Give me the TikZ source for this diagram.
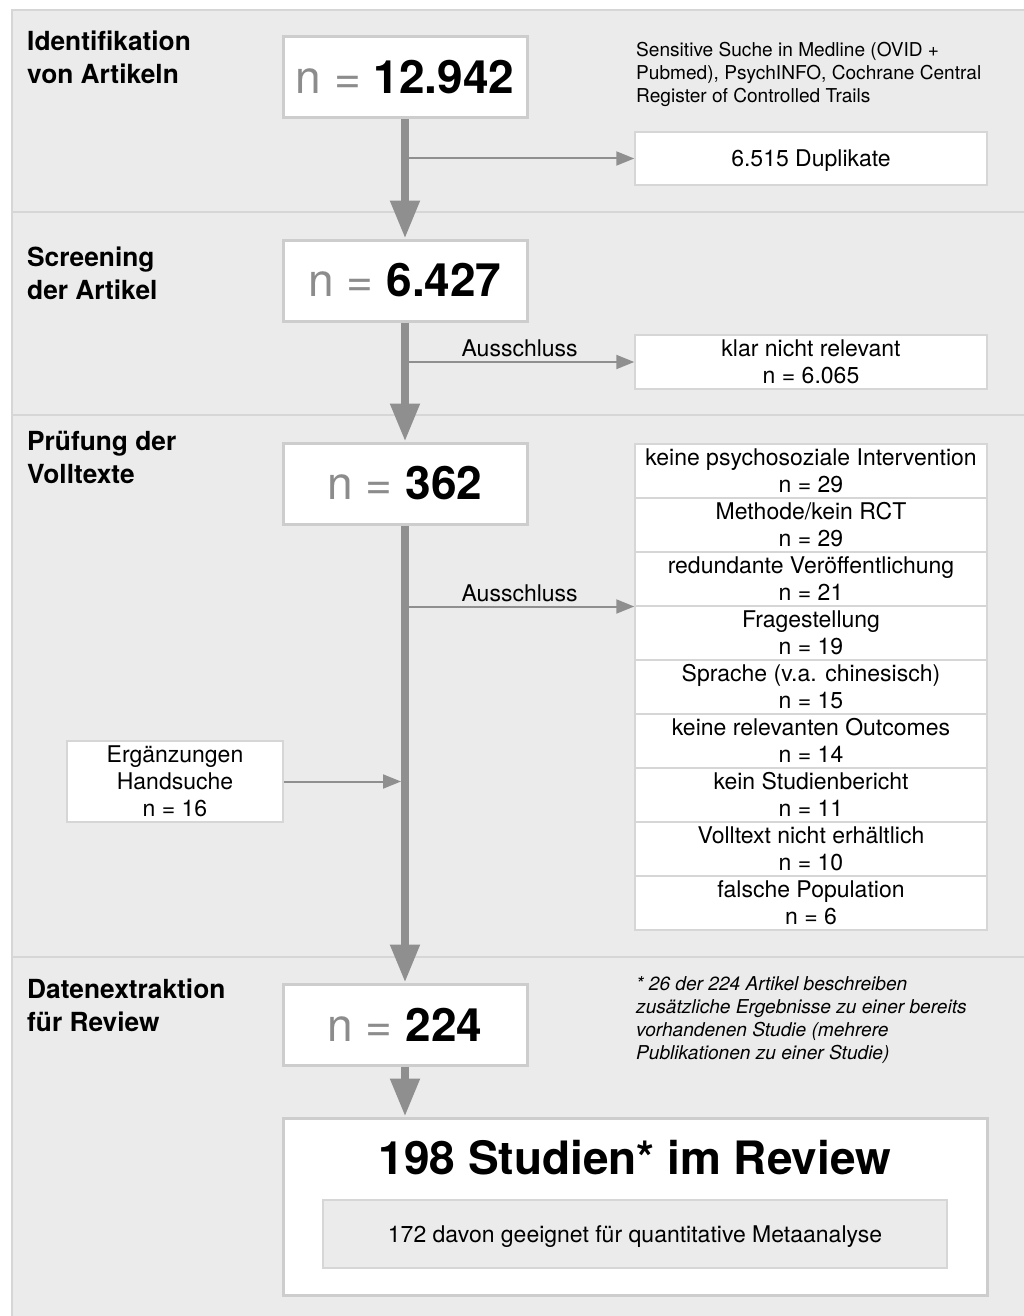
\documentclass[tikz,border=0pt]{standalone}
\usepackage{fontspec}
\setmainfont{TeX Gyre Heros}
\usetikzlibrary{arrows.meta}
\definecolor{panelgray}{HTML}{EBEBEB}
\definecolor{linegray}{HTML}{D6D6D6}
\definecolor{boxgray}{HTML}{CDCDCD}
\definecolor{arrowgray}{HTML}{8F8F8F}
\definecolor{ngray}{HTML}{8C8C8C}
\newcommand{\countval}[1]{{\color{ngray}n =} \textbf{#1}}

\begin{document}
\begin{tikzpicture}[x=1pt,y=-1pt,
  stage/.style={draw=boxgray,line width=3pt,fill=white,minimum width=244pt,
    minimum height=81pt,inner sep=0pt,font=\fontsize{46}{50}\selectfont},
  sidebox/.style={draw=linegray,line width=1.5pt,fill=white,minimum width=352pt,
    minimum height=54pt,inner sep=0pt,align=center,font=\fontsize{23}{27}\selectfont},
  phase/.style={anchor=north west,inner sep=0pt,align=left,
    font=\fontsize{26.3}{33}\selectfont\bfseries},
  note/.style={anchor=north west,inner sep=0pt,align=left,
    font=\fontsize{19.1}{23}\selectfont},
  flow/.style={draw=arrowgray,line width=8pt,-{Triangle[length=38pt,width=28pt]}},
  branch/.style={draw=arrowgray,line width=2pt,-{Triangle[length=18pt,width=14pt]}}]
  \useasboundingbox (0,0) rectangle (1024,1316);
  % grey panel, split into the four phases
  \filldraw[fill=panelgray,draw=linegray,line width=2pt] (12,10) rectangle (1030,1322);
  \draw[linegray,line width=2pt] (12,212) -- (1024,212);
  \draw[linegray,line width=2pt] (12,415) -- (1024,415);
  \draw[linegray,line width=2pt] (12,957) -- (1024,957);

  \node[phase] (ph1) at (27,31) {Identifikation\\von Artikeln};
  \node[phase] (ph2) at (27,246.5) {Screening\\der Artikel};
  \node[phase] (ph3) at (27,431) {Prüfung der\\Volltexte};
  \node[phase] (ph4) at (27,978.5) {Datenextraktion\\für Review};

  % main flow
  \node[stage] (s1) at (405,77.5) {\countval{12.942}};
  \node[stage] (s2) at (405,280.5) {\countval{6.427}};
  \node[stage] (s3) at (405,483.5) {\countval{362}};
  \node[stage] (s4) at (405,1024.5) {\countval{224}};

  \node[note] (search) at (636,42) {Sensitive Suche in Medline (OVID +\\
    Pubmed), PsychINFO, Cochrane Central\\Register of Controlled Trails};
  \node[sidebox,minimum height=53pt,text depth=0pt] (dup) at (811,158.5) {6.515 Duplikate};
  \node[sidebox] (irr) at (811,362) {klar nicht relevant\\n = 6.065};

  % reasons for exclusion
  \node[sidebox,anchor=north] (ex1) at (811,443) {keine psychosoziale Intervention\\n = 29};
  \node[sidebox,anchor=north] (ex2) at (811,497) {Methode/kein RCT\\n = 29};
  \node[sidebox,anchor=north] (ex3) at (811,551) {redundante Veröffentlichung\\n = 21};
  \node[sidebox,anchor=north] (ex4) at (811,605) {Fragestellung\\n = 19};
  \node[sidebox,anchor=north] (ex5) at (811,659) {Sprache (v.a. chinesisch)\\n = 15};
  \node[sidebox,anchor=north] (ex6) at (811,713) {keine relevanten Outcomes\\n = 14};
  \node[sidebox,anchor=north] (ex7) at (811,767) {kein Studienbericht\\n = 11};
  \node[sidebox,anchor=north] (ex8) at (811,821) {Volltext nicht erhältlich\\n = 10};
  \node[sidebox,anchor=north] (ex9) at (811,875) {falsche Population\\n = 6};

  \node[sidebox,minimum width=216pt,minimum height=81pt] (hand) at (175,781.5)
    {Ergänzungen\\Handsuche\\n = 16};

  \node[note,font=\fontsize{19.1}{23}\selectfont\itshape] (foot) at (636,976)
    {* 26 der 224 Artikel beschreiben\\zusätzliche Ergebnisse zu einer bereits\\
     vorhandenen Studie (mehrere\\Publikationen zu einer Studie)};

  \node[draw=boxgray,line width=3pt,fill=white,minimum width=704pt,
    minimum height=177pt] (review) at (635,1206.5) {};
  \node[anchor=base,font=\fontsize{46}{50}\selectfont\bfseries] (revtitle)
    at (635,1174) {198 Studien* im Review};
  \node[draw=linegray,line width=2pt,fill=panelgray,minimum width=624pt,
    minimum height=68pt,text depth=0pt,font=\fontsize{23}{27}\selectfont] (meta)
    at (635,1234) {172 davon geeignet für quantitative Metaanalyse};

  % arrows
  \draw[flow] (s1) -- (s2);
  \draw[flow] (s2) -- (s3);
  \draw[flow] (s3) -- (s4);
  \draw[flow] (s4) -- (s4 |- review.north);
  \draw[branch] (s1.south |- dup.west) -- (dup.west);
  \draw[branch] (s2.south |- irr.west) -- node[above,inner sep=4pt,
    font=\fontsize{23}{27}\selectfont] (lbl1) {Ausschluss} (irr.west);
  \draw[branch] (s3.south |- ex3.south west) -- node[above,inner sep=4pt,
    font=\fontsize{23}{27}\selectfont] (lbl2) {Ausschluss} (ex3.south west);
  \draw[branch,shorten >=4pt] (hand.east) -- (hand.east -| s3.south);
\end{tikzpicture}
\end{document}
